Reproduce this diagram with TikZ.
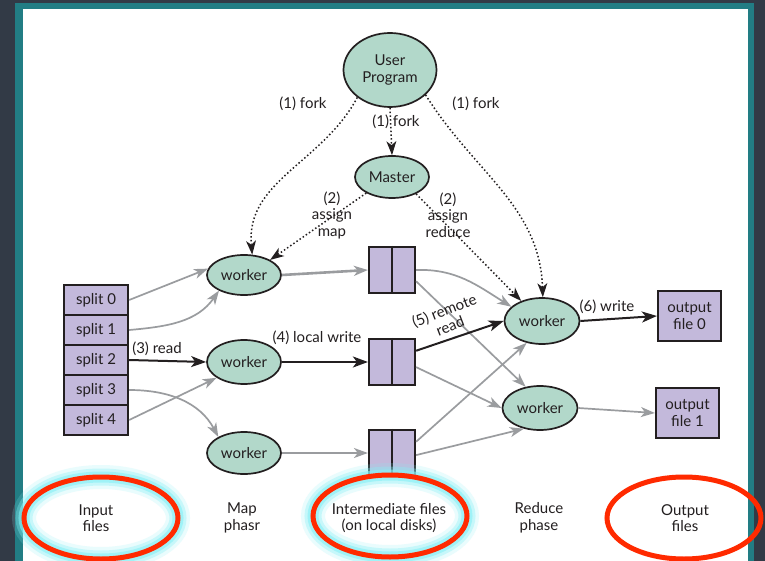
\documentclass[tikz,border=0pt]{standalone}
\usepackage{fontspec}
\setmainfont{Lato}
\usetikzlibrary{arrows.meta,shapes.geometric}
\definecolor{mint}{HTML}{B2D8CA}
\definecolor{lav}{HTML}{C3B9DB}
\definecolor{ink}{HTML}{231F20}
\definecolor{gr}{HTML}{9A9C9F}
\definecolor{bgdark}{HTML}{323A46}
\definecolor{tealb}{HTML}{227D84}
\definecolor{redo}{HTML}{FF2A00}
\definecolor{glowc}{HTML}{86F0F5}
\begin{document}
\begin{tikzpicture}[x=1pt,y=1pt,
  font=\fontsize{15}{16.5}\selectfont, text=ink,
  ell/.style={ellipse, draw=ink, line width=1.7pt, fill=mint, inner sep=0pt},
  splitbox/.style={rectangle, draw=ink, line width=2.3pt, fill=lav, inner sep=0pt,
    minimum width=64pt, minimum height=30pt},
  bufbox/.style={rectangle, draw=ink, line width=2.2pt, fill=lav, inner sep=0pt,
    minimum width=46pt, minimum height=46pt},
  outbox/.style={rectangle, draw=ink, line width=2.2pt, fill=lav, inner sep=0pt,
    minimum width=63pt, minimum height=50pt, align=center},
  lbl/.style={inner sep=1pt, align=center},
  garrow/.style={draw=gr, line width=1.7pt, -{Stealth[length=14pt,width=10pt,inset=4pt]}},
  barrow/.style={draw=ink, line width=2pt, -{Stealth[length=15pt,width=11pt,inset=4pt]}},
  dotarrow/.style={draw=ink, line width=1.5pt, dash pattern=on 1.5pt off 2.3pt,
    -{Stealth[length=14pt,width=10pt,inset=4pt,line width=0pt]}}
]
\useasboundingbox (0,0) rectangle (765,-561);
% background panel
\fill[bgdark] (0,0) rectangle (765,-561);
\fill[tealb] (15,-3) rectangle (754,-570);
\fill[white] (23,-9) rectangle (748,-570);

% nodes
\node[ell, minimum width=93pt, minimum height=74pt, align=center] (up) at (390,-70) {User\\Program};
\node[ell, minimum width=74pt, minimum height=42pt] (master) at (392,-177) {Master};
\node[ell, minimum width=74pt, minimum height=40pt] (w1) at (244,-275) {worker};
\node[ell, minimum width=74pt, minimum height=44pt] (w2) at (244,-362) {worker};
\node[ell, minimum width=74pt, minimum height=42pt] (w3) at (244,-453) {worker};
\node[ell, minimum width=75pt, minimum height=46pt] (r1) at (542,-321) {worker};
\node[ell, minimum width=75pt, minimum height=44pt] (r2) at (540,-408) {worker};

\node[splitbox] (s0) at (96,-300) {split 0};
\node[splitbox] (s1) at (96,-330) {split 1};
\node[splitbox] (s2) at (96,-360) {split 2};
\node[splitbox] (s3) at (96,-390) {split 3};
\node[splitbox] (s4) at (96,-420) {split 4};

\node[bufbox] (b1) at (392,-270) {};
\node[bufbox] (b2) at (392,-362) {};
\node[bufbox] (b3) at (392,-453) {};
\foreach \b in {b1,b2,b3} \draw[ink, line width=2.2pt] (\b.north) -- (\b.south);

\node[outbox] (o0) at (689.5,-316) {output\\file 0};
\node[outbox] (o1) at (687.5,-413) {output\\file 1};

% dotted fork / assign
\draw[dotarrow] (up.south) -- (master.north);
\draw[dotarrow] (up.220) to[out=-118, in=95] (w1.68);
\draw[dotarrow] (up.-35) to[out=-58, in=92] (r1.88);
\draw[dotarrow] (master.212) -- (w1.30);
\draw[dotarrow] (master.-35) -- (r1.136);

% map side
\draw[garrow] (s0.east) -- (w1.170);
\draw[garrow] (s1.east) to[out=5, in=235] (w1.212);
\draw[barrow] (s2.east) -- (w2.west);
\draw[garrow] (s3.east) to[out=0, in=118] (w3.148);
\draw[garrow] (s4.east) -- (w2.210);

\draw[garrow, line width=2.6pt] (w1.east) -- (b1.west);
\draw[barrow] (w2.east) -- (b2.west);
\draw[garrow] (w3.east) -- (b3.west);

% reduce side
\draw[garrow] (b1.east) to[out=2, in=148] (r1.155);
\draw[garrow] (b1.-25) -- (r2.124);
\draw[barrow] (b2.25) -- (r1.west);
\draw[garrow] (b2.-12) -- (r2.west);
\draw[garrow] (b3.25) -- (r1.235);
\draw[garrow] (b3.-5) -- (r2.232);

\draw[barrow] (r1.east) -- (o0.west);
\draw[garrow] (r2.east) -- (o1.west);

% labels
\node[lbl] (l1a) at (303,-104) {(1) fork};
\node[lbl] (l1b) at (396,-122) {(1) fork};
\node[lbl] (l1c) at (476,-104) {(1) fork};
\node[lbl] (l2a) at (332,-215) {(2)\\assign\\map};
\node[lbl] (l2b) at (448,-215) {(2)\\assign\\reduce};
\node[lbl] (l3) at (157,-349) {(3) read};
\node[lbl] (l4) at (317,-338) {(4) local write};
\node[lbl, rotate=21] (l5) at (447,-318) {(5) remote\\read};
\node[lbl] (l6) at (607,-307) {(6) write};

% bottom highlight ellipses
\foreach \cx/\cy in {101/-518, 390/-516}{
  \draw[glowc, line width=24pt, opacity=0.18] (\cx,\cy) ellipse [x radius=77pt, y radius=41pt];
  \draw[glowc, line width=17pt, opacity=0.35] (\cx,\cy) ellipse [x radius=77pt, y radius=41pt];
  \draw[glowc, line width=11pt, opacity=0.6] (\cx,\cy) ellipse [x radius=77pt, y radius=41pt];
}
\foreach \cx/\cy in {101/-518, 390/-516, 684/-518}{
  \draw[redo, line width=5pt] (\cx,\cy) ellipse [x radius=77pt, y radius=41pt];
}

\node[lbl] (p1) at (96,-518) {Input\\files};
\node[lbl] (p2) at (242,-518) {Map\\phasr};
\node[lbl] (p3) at (389,-518) {Intermediate files\\(on local disks)};
\node[lbl] (p4) at (539,-518) {Reduce\\phase};
\node[lbl] (p5) at (685,-518) {Output\\files};
\end{tikzpicture}
\end{document}
